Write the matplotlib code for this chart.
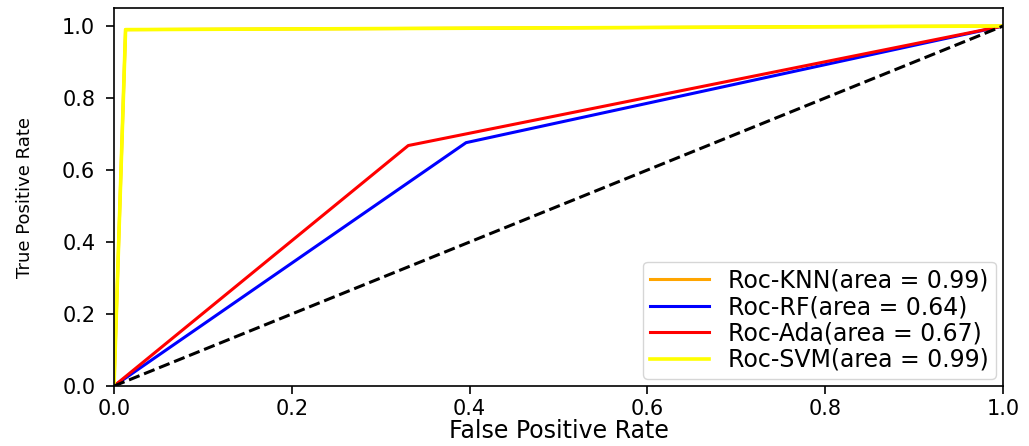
import matplotlib
matplotlib.use('Agg')
from matplotlib import pyplot as plt

# roc points
fpr_knn = [0.0, 0.013, 1.0]
tpr_knn = [0.0, 0.99, 1.0]
fpr_rf = [0.0, 0.396, 1.0]
tpr_rf = [0.0, 0.676, 1.0]
fpr_ada = [0.0, 0.331, 1.0]
tpr_ada = [0.0, 0.668, 1.0]
fpr_svm = [0.0, 0.013, 1.0]
tpr_svm = [0.0, 0.99, 1.0]

labels = ['Roc-KNN(area = 0.99)', 'Roc-RF(area = 0.64)',
          'Roc-Ada(area = 0.67)', 'Roc-SVM(area = 0.99)']
colors = ['orange', 'blue', 'red', 'yellow']

fig = plt.figure(figsize=(10.29, 4.46), dpi=100)
ax = fig.add_axes([0.1108, 0.1345, 0.8639, 0.8475])

ax.plot(fpr_knn, tpr_knn, color=colors[0], lw=2.2, label=labels[0])
ax.plot(fpr_rf, tpr_rf, color=colors[1], lw=2.2, label=labels[1])
ax.plot(fpr_ada, tpr_ada, color=colors[2], lw=2.2, label=labels[2])
ax.plot(fpr_svm, tpr_svm, color=colors[3], lw=2.6, label=labels[3])
ax.plot([0, 1], [0, 1], color='black', lw=2.2, linestyle='--')

ax.set_xlim(0.0, 1.0)
ax.set_ylim(0.0, 1.05)
ax.set_xticks([0, 0.2, 0.4, 0.6, 0.8, 1.0])
ax.set_yticks([0, 0.2, 0.4, 0.6, 0.8, 1.0])
ax.tick_params(labelsize=15, width=1.2, length=5.5)
ax.tick_params(axis='y', pad=8)
for s in ax.spines.values():
    s.set_linewidth(1.2)

ax.set_xlabel('False Positive Rate', fontsize=17, labelpad=0)
ax.set_ylabel('True Positive Rate', fontsize=13, labelpad=20)

ax.legend(loc='lower right', fontsize=17, handlelength=2.5,
          handletextpad=0.8, labelspacing=0.1, borderpad=0.3,
          borderaxespad=0.3)

fig.savefig('out.png')
